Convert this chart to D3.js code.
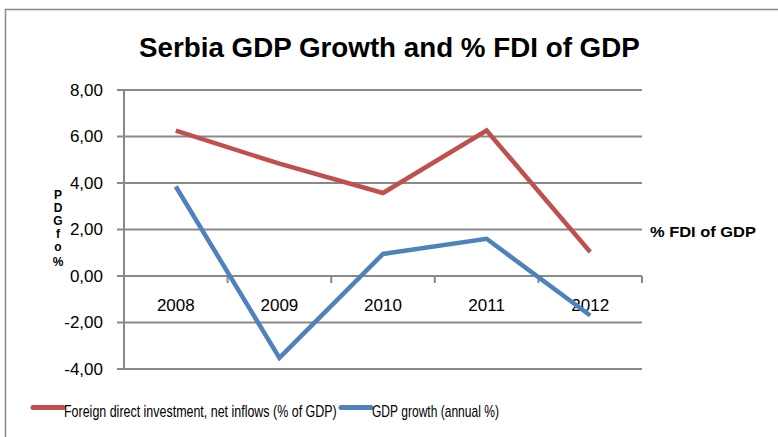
<!DOCTYPE html>
<html>
<head>
<meta charset="utf-8">
<script src="https://cdn.jsdelivr.net/npm/d3@7"></script>
<style>
  body { margin: 0; background: #fff; }
  svg text { font-family: "Liberation Sans", Arial, sans-serif; fill: #000; }
</style>
</head>
<body>
<div id="chart"></div>
<script>
// data
var years = ['2008', '2009', '2010', '2011', '2012'];
var fdiValues = [6.25, 4.83, 3.57, 6.26, 1.03];
var gdpValues = [3.85, -3.52, 0.95, 1.6, -1.7];
var yTicks = [-4, -2, 0, 2, 4, 6, 8];
var seriesNames = ['Foreign direct investment, net inflows (% of GDP)', 'GDP growth (annual %)'];
var seriesColors = ['#C0504D', '#4F81BD'];

var width = 778, height = 437;
var svg = d3.select('#chart').append('svg')
  .attr('width', width)
  .attr('height', height);

// squeeze a text horizontally so it spans w pixels from x (Calibri is narrow)
function squeeze(sel, x, w) {
  sel.each(function() {
    var len = this.getComputedTextLength();
    var k = w / len;
    d3.select(this).attr('transform', 'translate(' + x + ',0) scale(' + k + ',1)');
  });
}

// outer chart frame
svg.append('rect')
  .attr('x', 5.5).attr('y', 9.5)
  .attr('width', 800).attr('height', 460)
  .attr('fill', 'none')
  .attr('stroke', '#898989')
  .attr('stroke-width', 1.5);

svg.append('text')
  .attr('y', 57)
  .attr('font-weight', 'bold')
  .attr('font-size', 27)
  .text('Serbia GDP Growth and % FDI of GDP')
  .call(squeeze, 139, 501);

var x = d3.scaleBand().domain(years).range([124, 642]).padding(0);
var y = d3.scaleLinear().domain([-4, 8]).range([369, 90]);
var cx = function(d) { return x(d) + x.bandwidth() / 2; };

// horizontal gridlines, with short tick stubs on the left
svg.append('g').selectAll('line')
  .data(yTicks)
  .enter().append('line')
  .attr('x1', 117).attr('x2', 642)
  .attr('y1', function(d) { return y(d); })
  .attr('y2', function(d) { return y(d); })
  .attr('stroke', '#898989')
  .attr('stroke-width', 2);

// vertical axis
svg.append('line')
  .attr('x1', 124).attr('x2', 124)
  .attr('y1', y(8)).attr('y2', y(-4))
  .attr('stroke', '#898989').attr('stroke-width', 2);

svg.append('g').selectAll('text')
  .data(yTicks)
  .enter().append('text')
  .attr('x', 103)
  .attr('y', function(d) { return y(d); })
  .attr('dy', '0.35em')
  .attr('text-anchor', 'end')
  .attr('font-size', 17)
  .text(function(d) { return d3.format('.2f')(d).replace('.', ',').replace('\u2212', '-'); });

// category tick marks along the zero line
var bounds = years.map(function(d) { return x(d); }).concat([x.range()[1]]);
svg.append('g').selectAll('line')
  .data(bounds)
  .enter().append('line')
  .attr('x1', function(d) { return d; })
  .attr('x2', function(d) { return d; })
  .attr('y1', y(0)).attr('y2', y(0) + 7)
  .attr('stroke', '#898989').attr('stroke-width', 2);

svg.append('g').selectAll('text')
  .data(years)
  .enter().append('text')
  .attr('x', cx)
  .attr('y', y(0) + 35)
  .attr('text-anchor', 'middle')
  .attr('font-size', 17)
  .text(function(d) { return d; });

// stacked axis title on the left
var stackChars = [['P', 195], ['D', 208], ['G', 221], ['f', 234], ['o', 247], ['%', 262]];
svg.append('g').selectAll('text')
  .data(stackChars)
  .enter().append('text')
  .attr('x', 58)
  .attr('y', function(d) { return d[1]; })
  .attr('dy', '0.35em')
  .attr('text-anchor', 'middle')
  .attr('font-weight', 'bold')
  .attr('font-size', 12)
  .text(function(d) { return d[0]; });

svg.append('text')
  .attr('y', 232)
  .attr('dy', '0.35em')
  .attr('font-weight', 'bold')
  .attr('font-size', 15)
  .text('% FDI of GDP')
  .call(squeeze, 650, 106);

var line = d3.line()
  .x(function(d, i) { return cx(years[i]); })
  .y(function(d) { return y(d); });

[fdiValues, gdpValues].forEach(function(vals, i) {
  svg.append('path')
    .attr('d', line(vals))
    .attr('fill', 'none')
    .attr('stroke', seriesColors[i])
    .attr('stroke-width', 4.5)
    .attr('stroke-linejoin', 'miter');
});

// legend
var legendItems = [
  { name: seriesNames[0], color: seriesColors[0], x: 33, w: 273 },
  { name: seriesNames[1], color: seriesColors[1], x: 341, w: 127 }
];
var legend = svg.append('g').selectAll('g')
  .data(legendItems)
  .enter().append('g')
  .attr('transform', function(d) { return 'translate(' + d.x + ', 407.5)'; });
legend.append('line')
  .attr('x1', 0).attr('x2', 30)
  .attr('stroke', function(d) { return d.color; })
  .attr('stroke-width', 5)
  .attr('stroke-linecap', 'round');
legend.append('text')
  .attr('y', 9)
  .attr('font-size', 16)
  .text(function(d) { return d.name; })
  .each(function(d) {
    d3.select(this).call(squeeze, 31, d.w);
  });
</script>
</body>
</html>
